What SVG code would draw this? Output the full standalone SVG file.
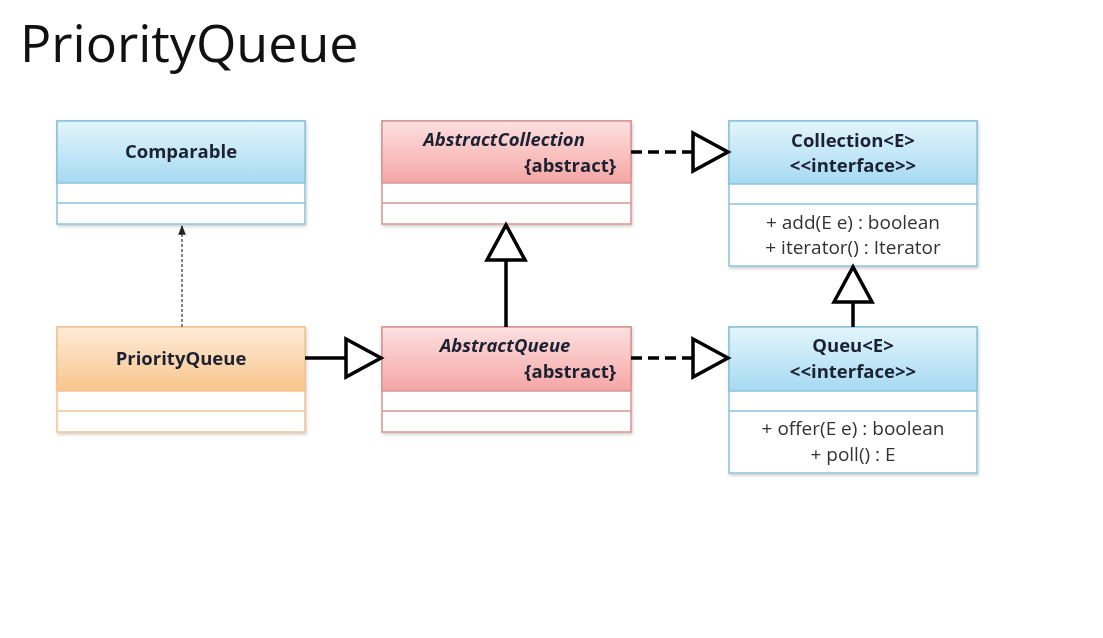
<svg xmlns="http://www.w3.org/2000/svg" width="1103" height="638" viewBox="0 0 1103 638">
<defs>
<linearGradient id="gBlue" x1="0" y1="0" x2="0" y2="1"><stop offset="0" stop-color="#e3f5fc"/><stop offset="1" stop-color="#a6daf3"/></linearGradient>
<linearGradient id="gRed" x1="0" y1="0" x2="0" y2="1"><stop offset="0" stop-color="#fde0e0"/><stop offset="1" stop-color="#f4a6a4"/></linearGradient>
<linearGradient id="gOrange" x1="0" y1="0" x2="0" y2="1"><stop offset="0" stop-color="#feecd8"/><stop offset="1" stop-color="#f9c48c"/></linearGradient>
<filter id="sh" x="-5%" y="-5%" width="110%" height="115%"><feDropShadow dx="1" dy="2" stdDeviation="1.5" flood-color="#000" flood-opacity="0.18"/></filter>
<marker id="small" viewBox="0 0 10 10" refX="9" refY="5" markerWidth="8" markerHeight="8" orient="auto"><path d="M0,1 L10,5 L0,9 z" fill="#222"/></marker>
</defs>
<style>
.title{font-family:"Open Sans","Noto Sans",sans-serif;font-size:52px;fill:#111}
.name{font-family:"Open Sans","Noto Sans",sans-serif;font-size:18.5px;font-weight:bold;fill:#1b2333}
.it{font-style:italic}
.meth{font-family:"Open Sans","Noto Sans",sans-serif;font-size:19px;fill:#333}
.blue{stroke:#8cc3da;stroke-width:1.5}
.red{stroke:#d99592;stroke-width:1.5}
.orange{stroke:#f2c393;stroke-width:1.5}
.line{stroke:#000;stroke-width:3.5;fill:none}
.dash{stroke-dasharray:11,6}
.tri{fill:#fff;stroke:#000;stroke-width:3.5;stroke-linejoin:miter}
</style>
<rect width="1103" height="638" fill="#fff"/>
<text class="title" x="20" y="62">PriorityQueue</text>

<g id="Comparable" filter="url(#sh)">
<rect x="57" y="121" width="248" height="103" fill="#fff" class="blue"/>
<rect x="57" y="121" width="248" height="62" fill="url(#gBlue)" class="blue"/>
<line x1="57" y1="203" x2="305" y2="203" class="blue"/>
<text class="name" x="181" y="158" text-anchor="middle">Comparable</text>
</g>

<g id="AbstractCollection" filter="url(#sh)">
<rect x="382" y="121" width="249" height="103" fill="#fff" class="red"/>
<rect x="382" y="121" width="249" height="62" fill="url(#gRed)" class="red"/>
<line x1="382" y1="203" x2="631" y2="203" class="red"/>
<text class="name it" x="504" y="146" text-anchor="middle">AbstractCollection</text>
<text class="name" x="616" y="172" text-anchor="end">{abstract}</text>
</g>

<g id="Collection" filter="url(#sh)">
<rect x="729" y="121" width="248" height="145" fill="#fff" class="blue"/>
<rect x="729" y="121" width="248" height="63" fill="url(#gBlue)" class="blue"/>
<line x1="729" y1="204" x2="977" y2="204" class="blue"/>
<text class="name" x="853" y="147" text-anchor="middle">Collection&lt;E&gt;</text>
<text class="name" x="853" y="172" text-anchor="middle">&lt;&lt;interface&gt;&gt;</text>
<text class="meth" x="853" y="229" text-anchor="middle">+ add(E e) : boolean</text>
<text class="meth" x="853" y="254" text-anchor="middle">+ iterator() : Iterator</text>
</g>

<g id="PriorityQueue" filter="url(#sh)">
<rect x="57" y="327" width="248" height="105" fill="#fff" class="orange"/>
<rect x="57" y="327" width="248" height="64" fill="url(#gOrange)" class="orange"/>
<line x1="57" y1="411" x2="305" y2="411" class="orange"/>
<text class="name" x="181" y="365" text-anchor="middle">PriorityQueue</text>
</g>

<g id="AbstractQueue" filter="url(#sh)">
<rect x="382" y="327" width="249" height="105" fill="#fff" class="red"/>
<rect x="382" y="327" width="249" height="64" fill="url(#gRed)" class="red"/>
<line x1="382" y1="411" x2="631" y2="411" class="red"/>
<text class="name it" x="505" y="352" text-anchor="middle">AbstractQueue</text>
<text class="name" x="616" y="378" text-anchor="end">{abstract}</text>
</g>

<g id="Queu" filter="url(#sh)">
<rect x="729" y="327" width="248" height="146" fill="#fff" class="blue"/>
<rect x="729" y="327" width="248" height="64" fill="url(#gBlue)" class="blue"/>
<line x1="729" y1="411" x2="977" y2="411" class="blue"/>
<text class="name" x="853" y="352" text-anchor="middle">Queu&lt;E&gt;</text>
<text class="name" x="853" y="378" text-anchor="middle">&lt;&lt;interface&gt;&gt;</text>
<text class="meth" x="853" y="435" text-anchor="middle">+ offer(E e) : boolean</text>
<text class="meth" x="853" y="461" text-anchor="middle">+ poll() : E</text>
</g>

<g id="connectors">
<line x1="182" y1="327" x2="182" y2="226" stroke="#333" stroke-width="1.2" stroke-dasharray="3,2" marker-end="url(#small)"/>
<line x1="305" y1="358" x2="346" y2="358" class="line"/>
<path d="M346,339 L381,358 L346,377 z" class="tri"/>
<line x1="506" y1="327" x2="506" y2="260" class="line"/>
<path d="M487,260 L506,225 L525,260 z" class="tri"/>
<line x1="631" y1="152" x2="693" y2="152" class="line dash"/>
<path d="M693,133 L728,152 L693,171 z" class="tri"/>
<line x1="631" y1="358" x2="693" y2="358" class="line dash"/>
<path d="M693,339 L728,358 L693,377 z" class="tri"/>
<line x1="853" y1="327" x2="853" y2="302" class="line"/>
<path d="M834,302 L853,267 L872,302 z" class="tri"/>
</g>
</svg>
